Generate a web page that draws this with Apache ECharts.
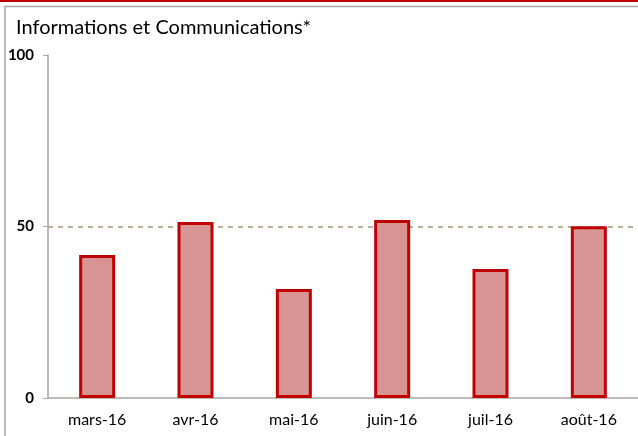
<!DOCTYPE html>
<html>
<head>
<meta charset="utf-8">
<script src="https://cdn.jsdelivr.net/npm/echarts@6/dist/echarts.min.js"></script>
<style>
  html, body { margin: 0; padding: 0; background: #fff; }
  #chart { width: 638px; height: 436px; }
</style>
</head>
<body>
<div id="chart"></div>
<script>
var months = ["mars-16", "avr-16", "mai-16", "juin-16", "juil-16", "août-16"];
var values = [41.7, 51.3, 31.8, 51.9, 37.6, 50.1];
var yTicks = [0, 50, 100];

var chart = echarts.init(document.getElementById("chart"));

var option = {
  animation: false,
  textStyle: { fontFamily: "Lato, sans-serif" },
  title: {
    text: "Informations et Communications*",
    left: 11,
    top: 13,
    textStyle: { fontSize: 20, fontWeight: "normal", color: "#000" }
  },
  graphic: [
    // red rule along the top edge
    { type: "rect", shape: { x: 0, y: 0, width: 638, height: 2 }, style: { fill: "#c00000" } },
    // grey frame
    {
      type: "polyline",
      shape: { points: [[5, 436], [5, 6.5], [638, 6.5]] },
      style: { stroke: "#a6a6a6", lineWidth: 1.5, fill: null }
    }
  ],
  grid: { left: 48, top: 55, width: 593, height: 343 },
  xAxis: {
    type: "category",
    data: months,
    axisLine: { lineStyle: { color: "#a6a6a6", width: 1.5 } },
    axisTick: { length: 6, lineStyle: { color: "#a6a6a6" } },
    axisLabel: { color: "#000", fontSize: 16, margin: 14 }
  },
  yAxis: {
    type: "value",
    min: yTicks[0],
    max: yTicks[yTicks.length - 1],
    interval: yTicks[1] - yTicks[0],
    axisLine: { show: true, lineStyle: { color: "#a6a6a6", width: 1.5 } },
    axisTick: { show: true, length: 5, lineStyle: { color: "#a6a6a6" } },
    axisLabel: { color: "#000", fontSize: 15, fontWeight: "bold", margin: 14 },
    splitLine: {
      show: true,
      lineStyle: {
        color: ["rgba(0,0,0,0)", "#9e9a78", "rgba(0,0,0,0)"],
        type: [5, 5],
        width: 1.5
      }
    }
  },
  series: [
    {
      type: "bar",
      data: values,
      barWidth: 36,
      itemStyle: {
        color: "#d99594",
        borderColor: "#c00000",
        borderWidth: 3
      }
    }
  ]
};

chart.setOption(option);
</script>
</body>
</html>
